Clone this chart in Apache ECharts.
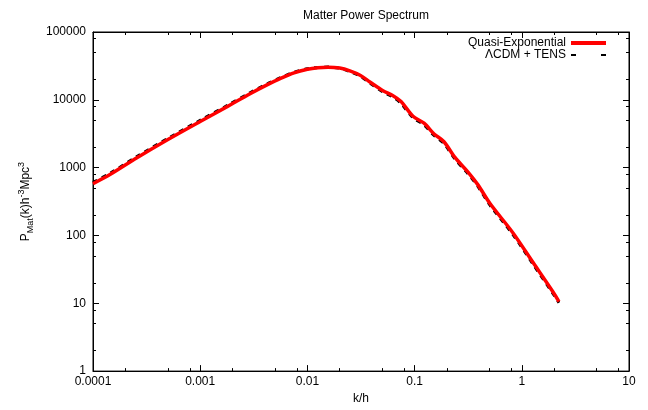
<!DOCTYPE html>
<html>
<head>
<meta charset="utf-8">
<script src="https://cdn.jsdelivr.net/npm/echarts@6/dist/echarts.min.js"></script>
<style>
html,body{margin:0;padding:0;background:#fff;}
#chart{width:648px;height:410px;}
</style>
</head>
<body>
<div id="chart"></div>
<script>
// ---- data ----
const kValues = [1e-4, 1.44e-4, 2.57e-4, 5e-4, 1e-3, 1.8e-3, 2.92e-3, 4.2e-3, 5.56e-3, 7.5e-3, 0.01, 0.0125, 0.0156, 0.02, 0.0249, 0.031, 0.0383, 0.0507, 0.0629, 0.0747, 0.0966, 0.1225, 0.152, 0.188, 0.238, 0.315, 0.39, 0.505, 0.828, 1.27, 1.95, 2.22];
const pQuasiExp = [580, 790, 1400, 2600, 4800, 8000, 12300, 16600, 20500, 25000, 28300, 29800, 30300, 29400, 26700, 23000, 18300, 13600, 11500, 9420, 5720, 4530, 3140, 2410, 1413, 859, 557, 296, 109, 40.2, 14.8, 10.6];
const pLCDM = [605, 822, 1455, 2700, 4980, 8280, 12700, 17100, 21000, 25500, 28700, 30000, 30400, 29200, 26200, 22400, 17700, 13100, 11000, 8900, 5450, 4280, 2980, 2270, 1340, 815, 527, 280, 103, 38, 14, 10.2];
const seriesNames = ['Quasi-Exponential', '\u039BCDM + TENS'];

const xTickValues = [1e-4, 1e-3, 1e-2, 1e-1, 1, 10];
const xTickLabels = ['0.0001', '0.001', '0.01', '0.1', '1', '10'];
const xMinorTicks = [2e-4, 5e-4, 8e-4, 2e-3, 5e-3, 8e-3, 2e-2, 5e-2, 8e-2, 0.2, 0.5, 0.8, 2, 5, 8];
const yTickValues = [1, 10, 100, 1000, 10000, 100000];
const yTickLabels = ['1', '10', '100', '1000', '10000', '100000'];
const yMinorTicks = [2, 5, 8, 20, 50, 80, 200, 500, 800, 2000, 5000, 8000, 20000, 50000, 80000];

const titleText = 'Matter Power Spectrum';
const xName = 'k/h';

// ---- chart ----
const FONT = '"Liberation Sans", Arial, Helvetica, sans-serif';
const BLACK = '#000';

function lookup(values, labels) {
  return function (v) {
    for (let i = 0; i < values.length; i++) {
      if (Math.abs(Math.log10(values[i] / v)) < 0.01) return labels[i];
    }
    return '';
  };
}

function pairs(xs, ys) { return xs.map((x, i) => [x, ys[i]]); }

function xAxisDef(pos, major, withLabels) {
  const ax = {
    type: 'log', logBase: 10, min: 1e-4, max: 10, position: pos,
    splitLine: { show: false },
    axisLine: { show: major, onZero: false, lineStyle: { color: BLACK, width: 1 } },
    axisTick: major
      ? { show: true, inside: true, length: 6, lineStyle: { color: BLACK, width: 1 } }
      : { show: true, inside: true, length: 3, customValues: xMinorTicks, lineStyle: { color: BLACK, width: 1 } },
    axisLabel: { show: withLabels, color: BLACK, fontFamily: FONT, fontSize: 12, margin: 5, formatter: lookup(xTickValues, xTickLabels) },
    minorTick: { show: false }
  };
  if (withLabels) {
    ax.name = xName; ax.nameLocation = 'middle'; ax.nameGap = 20;
    ax.nameTextStyle = { color: BLACK, fontFamily: FONT, fontSize: 12 };
  }
  return ax;
}
function yAxisDef(pos, major, withLabels) {
  const ax = {
    type: 'log', logBase: 10, min: 1, max: 100000, position: pos,
    splitLine: { show: false },
    axisLine: { show: major, onZero: false, lineStyle: { color: BLACK, width: 1 } },
    axisTick: major
      ? { show: true, inside: true, length: 6, lineStyle: { color: BLACK, width: 1 } }
      : { show: true, inside: true, length: 3, customValues: yMinorTicks, lineStyle: { color: BLACK, width: 1 } },
    axisLabel: { show: withLabels, color: BLACK, fontFamily: FONT, fontSize: 12, margin: 7, formatter: lookup(yTickValues, yTickLabels) },
    minorTick: { show: false }
  };
  if (withLabels) {
    ax.name = '{n|P}{sub|Mat}{n|(k)h}{sup|-3}{n|Mpc}{sup|3}';
    ax.nameLocation = 'middle'; ax.nameGap = 58; ax.nameRotate = 90;
    ax.nameTextStyle = {
      color: BLACK, fontFamily: FONT, fontSize: 12,
      rich: {
        n: { fontSize: 12, fontFamily: FONT, color: BLACK, lineHeight: 18, verticalAlign: 'middle' },
        sub: { fontSize: 9, fontFamily: FONT, color: BLACK, lineHeight: 10, verticalAlign: 'bottom' },
        sup: { fontSize: 9, fontFamily: FONT, color: BLACK, lineHeight: 10, verticalAlign: 'top' }
      }
    };
  }
  return ax;
}

const chart = echarts.init(document.getElementById('chart'), null, { renderer: 'canvas' });
chart.setOption({
  animation: false,
  backgroundColor: '#fff',
  textStyle: { fontFamily: FONT },
  title: {
    text: titleText, left: 361, top: 5, textAlign: 'center',
    textStyle: { color: BLACK, fontFamily: FONT, fontSize: 12, fontWeight: 'normal' }
  },
  legend: {
    orient: 'vertical', right: 35, top: 32, align: 'right',
    itemWidth: 35, itemHeight: 12, itemGap: 0,
    itemStyle: { opacity: 0, borderWidth: 0 },
    textStyle: { color: BLACK, fontFamily: FONT, fontSize: 12, padding: [0, 0, 0, 0] },
    data: [
      { name: seriesNames[0], lineStyle: { width: 4 } },
      { name: seriesNames[1], lineStyle: { type: [5, 25], width: 2 } }
    ]
  },
  grid: { left: 93, right: 19, top: 32, bottom: 32, show: true, borderColor: BLACK, borderWidth: 1, backgroundColor: 'transparent' },
  xAxis: [
    xAxisDef('bottom', true, true),
    xAxisDef('bottom', false, false),
    xAxisDef('top', true, false),
    xAxisDef('top', false, false)
  ],
  yAxis: [
    yAxisDef('left', true, true),
    yAxisDef('left', false, false),
    yAxisDef('right', true, false),
    yAxisDef('right', false, false)
  ],
  series: [
    {
      name: seriesNames[0], type: 'line', xAxisIndex: 0, yAxisIndex: 0,
      data: pairs(kValues, pQuasiExp), showSymbol: false, symbol: 'none', smooth: 0.3, z: 3,
      lineStyle: { color: '#ff0000', width: 3.5 }, itemStyle: { color: '#ff0000' }
    },
    {
      name: seriesNames[1], type: 'line', xAxisIndex: 0, yAxisIndex: 0,
      data: pairs(kValues, pLCDM), showSymbol: false, symbol: 'none', smooth: 0.3, z: 2,
      lineStyle: { color: BLACK, width: 3, type: [5, 5] }, itemStyle: { color: BLACK }
    }
  ]
});
</script>
</body>
</html>
